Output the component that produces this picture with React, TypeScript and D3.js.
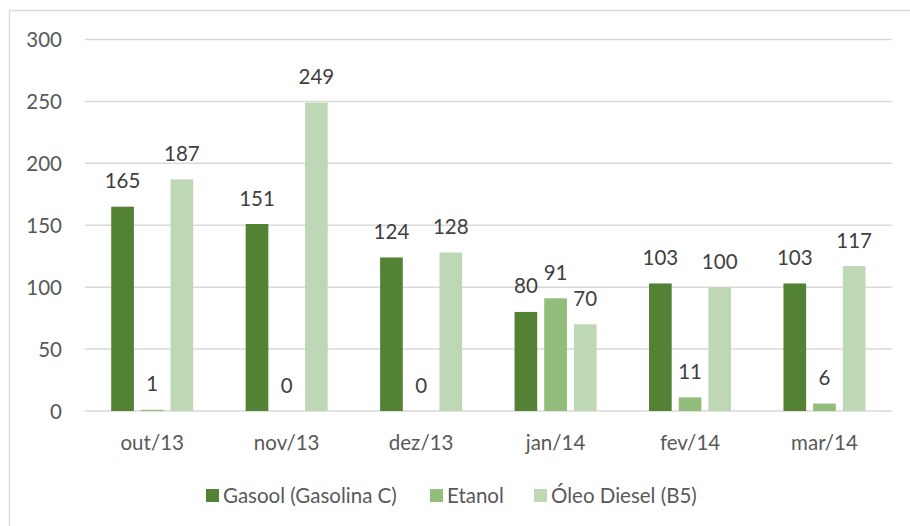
import { useEffect, useRef } from "react";
import * as d3 from "d3";

const categories = ["out/13", "nov/13", "dez/13", "jan/14", "fev/14", "mar/14"];
const seriesNames = ["Gasool (Gasolina C)", "Etanol", "Óleo Diesel (B5)"];
const gasool = [165, 151, 124, 80, 103, 103];
const etanol = [1, 0, 0, 91, 11, 6];
const diesel = [187, 249, 128, 70, 100, 117];
const yTicks = [0, 50, 100, 150, 200, 250, 300];
const colors = ["#548235", "#93bd7a", "#bed7b4"];

export default function App() {
  const ref = useRef<SVGSVGElement>(null);

  useEffect(() => {
    if (!ref.current) return;
    const width = 910;
    const height = 526;
    const font = "Lato, 'Open Sans', sans-serif";
    const fontSize = "20.5px";
    const textColor = "#595959";

    const svg = d3.select(ref.current);
    svg.selectAll("*").remove();
    svg.attr("width", width).attr("height", height);

    svg.append("rect")
      .attr("width", width).attr("height", height).attr("fill", "#fff");

    // chart border (only top/left visible in the crop)
    svg.append("rect")
      .attr("x", 9.5).attr("y", 10.5)
      .attr("width", 1000).attr("height", 1000)
      .attr("fill", "none").attr("stroke", "#d9d9d9").attr("stroke-width", 1.5);

    const left = 85;
    const right = 891.7;
    const y = d3.scaleLinear().domain([0, 300]).range([411, 39.5]);

    const x0 = d3.scaleBand().domain(categories).range([left, right])
      .paddingInner(0.39).paddingOuter(0.195);
    const x1 = d3.scaleBand().domain(seriesNames).range([0, x0.bandwidth()])
      .paddingInner(0.236).paddingOuter(0);

    // gridlines
    svg.append("g").selectAll("line").data(yTicks).enter().append("line")
      .attr("x1", left).attr("x2", right)
      .attr("y1", (d) => y(d)).attr("y2", (d) => y(d))
      .attr("stroke", "#d9d9d9").attr("stroke-width", 1.5);

    // y tick labels
    svg.append("g").selectAll("text").data(yTicks).enter().append("text")
      .attr("x", 62).attr("y", (d) => y(d) + 7.5)
      .attr("text-anchor", "end")
      .style("font-family", font).style("font-size", fontSize).attr("fill", textColor)
      .text((d) => d);

    // x labels
    svg.append("g").selectAll("text").data(categories).enter().append("text")
      .attr("x", (d) => x0(d)! + x0.bandwidth() / 2).attr("y", 450)
      .attr("text-anchor", "middle")
      .style("font-family", font).style("font-size", fontSize).attr("fill", textColor)
      .text((d) => d);

    const series = [gasool, etanol, diesel];
    series.forEach((values, si) => {
      const g = svg.append("g");
      const name = seriesNames[si];
      g.selectAll("rect").data(values).enter().append("rect")
        .attr("x", (_, i) => x0(categories[i])! + x1(name)!)
        .attr("y", (d) => y(d))
        .attr("width", x1.bandwidth())
        .attr("height", (d) => y(0) - y(d))
        .attr("fill", colors[si]);
      g.selectAll("text").data(values).enter().append("text")
        .attr("x", (_, i) => x0(categories[i])! + x1(name)! + x1.bandwidth() / 2)
        .attr("y", (d) => y(d) - 18.5)
        .attr("text-anchor", "middle")
        .style("font-family", font).style("font-size", fontSize).attr("fill", "#404040")
        .text((d) => d);
    });

    // legend
    const legendX = [206, 430, 534];
    const legend = svg.append("g");
    seriesNames.forEach((name, i) => {
      legend.append("rect")
        .attr("x", legendX[i]).attr("y", 489)
        .attr("width", 13).attr("height", 13)
        .attr("fill", colors[i]);
      legend.append("text")
        .attr("x", legendX[i] + 17).attr("y", 503)
        .style("font-family", font).style("font-size", fontSize).attr("fill", textColor)
        .text(name);
    });
  }, []);

  return <svg ref={ref} style={{ position: "absolute", left: 0, top: 0 }} />;
}
